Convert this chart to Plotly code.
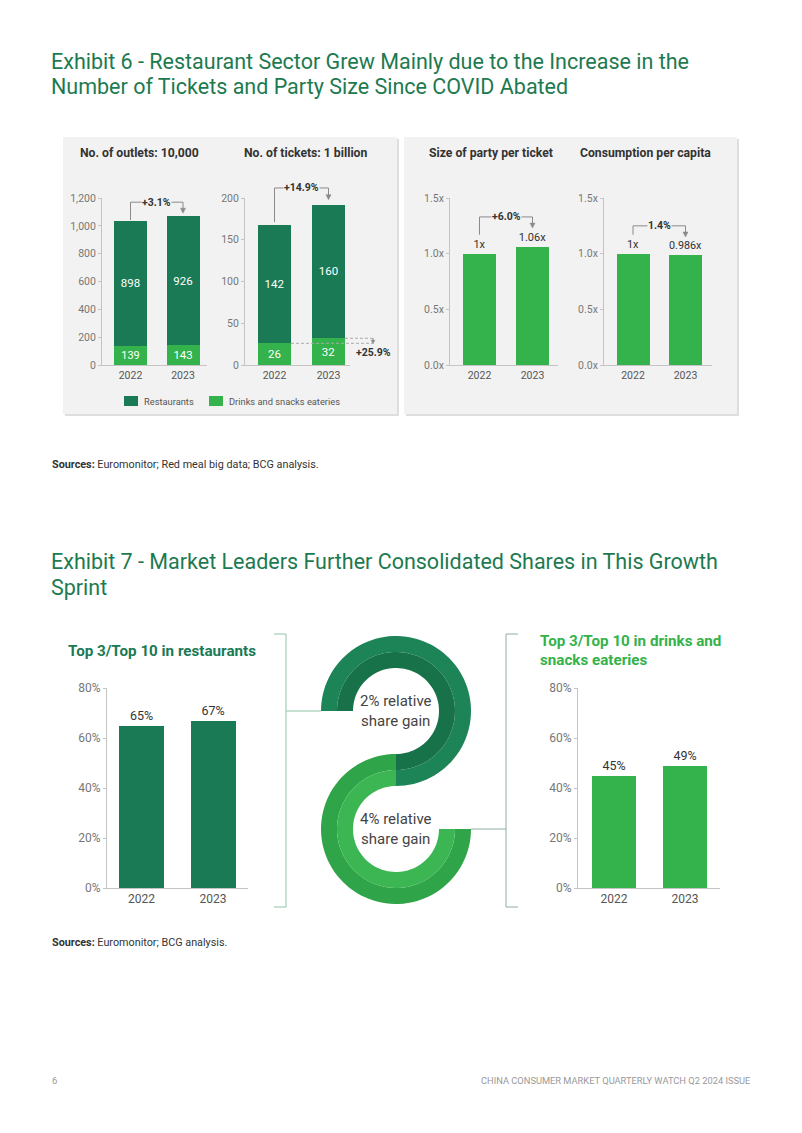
import math
import plotly.graph_objects as go

W, H = 802, 1133

# ---------------- data ----------------
years = ["2022", "2023"]
outlets_restaurants = [898, 926]
outlets_drinks = [139, 143]
tickets_restaurants = [142, 160]
tickets_drinks = [26, 32]
party_size = [1.0, 1.06]
party_labels = ["1x", "1.06x"]
consumption = [1.0, 0.986]
consumption_labels = ["1x", "0.986x"]
share_restaurants = [65, 67]
share_drinks = [45, 49]
share_labels_restaurants = ["65%", "67%"]
share_labels_drinks = ["45%", "49%"]
growth_labels = ["+3.1%", "+14.9%", "+6.0%", "1.4%"]
drinks_ticket_growth = "+25.9%"
ratio_ticks = [0, 0.5, 1.0, 1.5]
ratio_ticktext = ["0.0x", "0.5x", "1.0x", "1.5x"]

# ---------------- styles ----------------
DARK = "#1a7a55"
LIGHT = "#34b24c"
TITLE_GREEN = "#1d7a50"
PANEL = "#f2f2f2"
AXIS = "#c4c4c4"
TICK = "#777777"
FONT = "Roboto"


def X(px):
    return px / W


def Y(py):
    return 1 - py / H


# pixel layout of each subplot
specs = [
    dict(left=102, right=207, c0=130.5, c1=183, bw=33, top=198, bottom=365, yr=[0, 1200]),
    dict(left=245, right=350, c0=274.5, c1=328.5, bw=33, top=198, bottom=365, yr=[0, 200]),
    dict(left=450, right=558, c0=479.5, c1=532.5, bw=33, top=198, bottom=365, yr=[0, 1.5]),
    dict(left=604, right=712, c0=633, c1=685.5, bw=33, top=198, bottom=365, yr=[0, 1.5]),
    dict(left=107, right=248, c0=141.5, c1=213, bw=45, top=688, bottom=888, yr=[0, 80]),
    dict(left=578, right=720, c0=614, c1=685, bw=44, top=688, bottom=888, yr=[0, 80]),
]


def to_px(s, xv, yv):
    u = s["c1"] - s["c0"]
    px = s["c0"] + xv * u
    y0, y1 = s["yr"]
    py = s["bottom"] - (yv - y0) / (y1 - y0) * (s["bottom"] - s["top"])
    return px, py


fig = go.Figure()
layout = dict(
    width=W, height=H, margin=dict(l=0, r=0, t=0, b=0, autoexpand=False),
    paper_bgcolor="white", plot_bgcolor="rgba(0,0,0,0)",
    barmode="stack", showlegend=False, font=dict(family=FONT),
)

xs = [0, 1]
for i, s in enumerate(specs):
    n = "" if i == 0 else str(i + 1)
    u = s["c1"] - s["c0"]
    xr = [-(s["c0"] - s["left"]) / u, 1 + (s["right"] - s["c1"]) / u]
    big = i >= 4
    layout["xaxis" + n] = dict(
        domain=[X(s["left"]), X(s["right"])], range=xr, anchor="y" + n,
        tickvals=xs, ticktext=years, showline=True, linecolor=AXIS, linewidth=1,
        showgrid=False, zeroline=False, ticks="", fixedrange=True,
        tickfont=dict(size=12 if big else 10.5, color="#555555"),
    )
    ya = dict(
        domain=[Y(s["bottom"]), Y(s["top"])], range=s["yr"], anchor="x" + n,
        showline=True, linecolor=AXIS, linewidth=1, showgrid=False, zeroline=False,
        ticks="outside", ticklen=3, tickcolor=AXIS, fixedrange=True,
        tickfont=dict(size=12 if big else 10.5, color=TICK),
    )
    if i == 0:
        ya.update(dtick=200, tickformat=",")
    elif i == 1:
        ya.update(dtick=50)
    elif i in (2, 3):
        ya.update(tickvals=ratio_ticks, ticktext=ratio_ticktext)
    else:
        ya.update(dtick=20, ticksuffix="%")
    layout["yaxis" + n] = ya

# ---------- traces ----------
def stacked(i, bottom_vals, top_vals, names):
    s = specs[i]
    n = "" if i == 0 else str(i + 1)
    u = s["c1"] - s["c0"]
    for vals, col, nm in ((bottom_vals, LIGHT, names[0]), (top_vals, DARK, names[1])):
        fig.add_trace(go.Bar(
            x=xs, y=vals, name=nm, width=s["bw"] / u, marker=dict(color=col, line=dict(width=0)),
            text=[str(v) for v in vals], textposition="inside", insidetextanchor="middle",
            textangle=0, textfont=dict(color="white", size=11.5, family=FONT),
            xaxis="x" + n, yaxis="y" + n, hoverinfo="skip",
        ))


def single(i, vals, labels, col, size):
    s = specs[i]
    n = "" if i == 0 else str(i + 1)
    u = s["c1"] - s["c0"]
    fig.add_trace(go.Bar(
        x=xs, y=vals, width=s["bw"] / u, marker=dict(color=col, line=dict(width=0)),
        text=labels, textposition="outside", cliponaxis=False, textangle=0,
        textfont=dict(color="#333333", size=size, family=FONT),
        xaxis="x" + n, yaxis="y" + n, hoverinfo="skip",
    ))


series_names = ["Drinks and snacks eateries", "Restaurants"]
stacked(0, outlets_drinks, outlets_restaurants, series_names)
stacked(1, tickets_drinks, tickets_restaurants, series_names)
single(2, party_size, party_labels, LIGHT, 11)
single(3, consumption, consumption_labels, LIGHT, 11)
single(4, share_restaurants, share_labels_restaurants, DARK, 12.5)
single(5, share_drinks, share_labels_drinks, LIGHT, 12.5)

shapes = []
annotations = []


def pth(points, close=False):
    d = "M" + " L".join(f"{X(a):.5f},{Y(b):.5f}" for a, b in points)
    return d + (" Z" if close else "")


# ---------- panels ----------
for (l, r) in ((63, 397), (404, 737)):
    shapes.append(dict(type="rect", xref="paper", yref="paper", layer="below",
                       x0=X(l + 2), x1=X(r + 2), y0=Y(416), y1=Y(139),
                       fillcolor="#dedede", line=dict(width=0)))
    shapes.append(dict(type="rect", xref="paper", yref="paper", layer="below",
                       x0=X(l), x1=X(r), y0=Y(414), y1=Y(137),
                       fillcolor=PANEL, line=dict(width=0)))

# ---------- growth brackets ----------
totals = [
    [a + b for a, b in zip(outlets_restaurants, outlets_drinks)],
    [a + b for a, b in zip(tickets_restaurants, tickets_drinks)],
    party_size,
    consumption,
]
# (start offset, bracket level, arrow-tip offset) in data units
bracket_cfg = [
    (5, 1170, 22),
    (3, 212, 6),
    (0.17, 1.33, 0.17),
    (0.17, 1.25, 0.164),
]
LINE = "#8a8a8a"
for i, (off0, lvl, off1) in enumerate(bracket_cfg):
    s = specs[i]
    t0, t1 = totals[i]
    p0 = to_px(s, 0, t0 + off0)
    pl0 = to_px(s, 0, lvl)
    pl1 = to_px(s, 1, lvl)
    tip = to_px(s, 1, t1 + off1)
    shapes.append(dict(type="path", xref="paper", yref="paper",
                       path=pth([p0, pl0, pl1, (tip[0], tip[1] - 4)]),
                       line=dict(color=LINE, width=1)))
    shapes.append(dict(type="path", xref="paper", yref="paper",
                       path=pth([(tip[0] - 2.5, tip[1] - 5), (tip[0] + 2.5, tip[1] - 5), tip], True),
                       fillcolor=LINE, line=dict(color=LINE, width=0.5)))
    annotations.append(dict(xref="paper", yref="paper", x=X((pl0[0] + pl1[0]) / 2), y=Y(pl0[1]),
                            text=f"<b>{growth_labels[i]}</b>", showarrow=False,
                            font=dict(size=10.5, color="#333333"), bgcolor=PANEL,
                            borderpad=0, xanchor="center", yanchor="middle"))

# drinks tickets growth (dashed)
s = specs[1]
a0 = to_px(s, 0, tickets_drinks[0])
a1 = to_px(s, 1, tickets_drinks[1])
xend = 375
edge0 = a0[0] + s["bw"] / 2
edge1 = a1[0] + s["bw"] / 2
shapes.append(dict(type="line", xref="paper", yref="paper", x0=X(edge0), x1=X(xend),
                   y0=Y(a0[1]), y1=Y(a0[1]), line=dict(color="#aaaaaa", width=1, dash="3px,2px")))
shapes.append(dict(type="line", xref="paper", yref="paper", x0=X(edge1), x1=X(xend),
                   y0=Y(a1[1]), y1=Y(a1[1]), line=dict(color="#aaaaaa", width=1, dash="3px,2px")))
shapes.append(dict(type="line", xref="paper", yref="paper", x0=X(373), x1=X(373),
                   y0=Y(a1[1]), y1=Y(a0[1] - 2), line=dict(color=LINE, width=1)))
shapes.append(dict(type="path", xref="paper", yref="paper",
                   path=pth([(371, a0[1] - 3), (375, a0[1] - 3), (373, a0[1])], True),
                   fillcolor=LINE, line=dict(color=LINE, width=0.5)))
annotations.append(dict(xref="paper", yref="paper", x=X(373), y=Y(a0[1] + 9),
                        text=f"<b>{drinks_ticket_growth}</b>", showarrow=False,
                        font=dict(size=10.5, color="#333333"), xanchor="center", yanchor="middle"))

# ---------- legend (custom) ----------
for (bx, col, label) in ((124, DARK, series_names[1]), (209, LIGHT, series_names[0])):
    shapes.append(dict(type="rect", xref="paper", yref="paper", x0=X(bx), x1=X(bx + 14),
                       y0=Y(406), y1=Y(396), fillcolor=col, line=dict(width=0)))
    annotations.append(dict(xref="paper", yref="paper", x=X(bx + 18), y=Y(401), text=label,
                            showarrow=False, xanchor="left", yanchor="middle",
                            font=dict(size=9.3, color="#555555")))

# ---------- chart titles ----------
for (cx, cy, t) in ((139, 153, "No. of outlets: 10,000"), (305.5, 153, "No. of tickets: 1 billion"),
                    (491, 153, "Size of party per ticket"), (645.5, 153, "Consumption per capita")):
    annotations.append(dict(xref="paper", yref="paper", x=X(cx), y=Y(cy), text=f"<b>{t}</b>",
                            showarrow=False, xanchor="center", yanchor="middle",
                            font=dict(size=12.2, color="#333333")))

annotations.append(dict(xref="paper", yref="paper", x=X(66), y=Y(651),
                        text="<b>Top 3/Top 10 in restaurants</b>", showarrow=False,
                        xanchor="left", yanchor="middle", font=dict(size=15.2, color=DARK)))
for (ty, t) in ((641, "<b>Top 3/Top 10 in drinks and</b>"), (660, "<b>snacks eateries</b>")):
    annotations.append(dict(xref="paper", yref="paper", x=X(538), y=Y(ty),
                            text=t, showarrow=False, xanchor="left", yanchor="middle",
                            font=dict(size=15.2, color=LIGHT)))

# ---------- page titles ----------
for (ty, t) in ((61, "Exhibit 6 - Restaurant Sector Grew Mainly due to the Increase in the"),
                (87, "Number of Tickets and Party Size Since COVID Abated"),
                (561, "Exhibit 7 - Market Leaders Further Consolidated Shares in This Growth"),
                (587, "Sprint")):
    annotations.append(dict(xref="paper", yref="paper", x=X(49), y=Y(ty), text=t,
                            showarrow=False, xanchor="left", yanchor="middle",
                            font=dict(size=21.5, color=TITLE_GREEN)))

for (sy, t) in ((464, "<b>Sources:</b> Euromonitor; Red meal big data; BCG analysis."),
                (942, "<b>Sources:</b> Euromonitor; BCG analysis.")):
    annotations.append(dict(xref="paper", yref="paper", x=X(50), y=Y(sy), text=t, showarrow=False,
                            xanchor="left", yanchor="middle", font=dict(size=10.8, color="#333333")))

annotations.append(dict(xref="paper", yref="paper", x=X(50), y=Y(1080), text="6", showarrow=False,
                        xanchor="left", yanchor="middle", font=dict(size=9.5, color="#999999")))
annotations.append(dict(xref="paper", yref="paper", x=X(752), y=Y(1080),
                        text="CHINA CONSUMER MARKET QUARTERLY WATCH Q2 2024 ISSUE", showarrow=False,
                        xanchor="right", yanchor="middle", font=dict(size=9.3, color="#999999")))

# ---------- S shape ----------
def ring(cx, cy, r_in, r_out, a0, a1, n=80):
    pts = []
    for k in range(n + 1):
        a = math.radians(a0 + (a1 - a0) * k / n)
        pts.append((cx + r_out * math.cos(a), cy - r_out * math.sin(a)))
    for k in range(n, -1, -1):
        a = math.radians(a0 + (a1 - a0) * k / n)
        pts.append((cx + r_in * math.cos(a), cy - r_in * math.sin(a)))
    return pth(pts, True)


R_OUT, R_MID, R_IN = 75, 59, 43
CX, CY1 = 396, 711
CY2 = CY1 + R_OUT + R_IN
for (cy, a0, a1, c_out, c_in) in ((CY1, 180, -90, "#1c8457", "#177249"),
                                  (CY2, 90, 360, "#2fa448", "#3cb653")):
    shapes.append(dict(type="path", xref="paper", yref="paper", path=ring(CX, cy, R_MID, R_OUT, a0, a1),
                       fillcolor=c_out, line=dict(width=0)))
    shapes.append(dict(type="path", xref="paper", yref="paper", path=ring(CX, cy, R_IN, R_MID, a0, a1),
                       fillcolor=c_in, line=dict(width=0)))

for (cy, t) in ((CY1, "2% relative<br>share gain"), (CY2, "4% relative<br>share gain")):
    annotations.append(dict(xref="paper", yref="paper", x=X(CX), y=Y(cy), text=t, showarrow=False,
                            xanchor="center", yanchor="middle", align="center",
                            font=dict(size=15, color="#444444")))

# brackets
BR = "#8fc4a6"
shapes.append(dict(type="path", xref="paper", yref="paper",
                   path=pth([(274, 634), (286, 634), (286, 907), (274, 907)]), line=dict(color=BR, width=1)))
shapes.append(dict(type="line", xref="paper", yref="paper", x0=X(286), x1=X(CX - R_OUT),
                   y0=Y(CY1), y1=Y(CY1), line=dict(color=BR, width=1)))
BR2 = "#8fb0a0"
shapes.append(dict(type="path", xref="paper", yref="paper",
                   path=pth([(518, 634), (506, 634), (506, 907), (518, 907)]), line=dict(color=BR2, width=1)))
shapes.append(dict(type="line", xref="paper", yref="paper", x0=X(CX + R_OUT), x1=X(506),
                   y0=Y(CY2), y1=Y(CY2), line=dict(color=BR2, width=1)))

layout["shapes"] = shapes
layout["annotations"] = annotations
fig.update_layout(**layout)
fig.write_html("out.html", config={"displayModeBar": False},
               post_script="document.body.style.margin='0';document.body.style.padding='0';"
                           "document.documentElement.style.overflow='hidden';")
